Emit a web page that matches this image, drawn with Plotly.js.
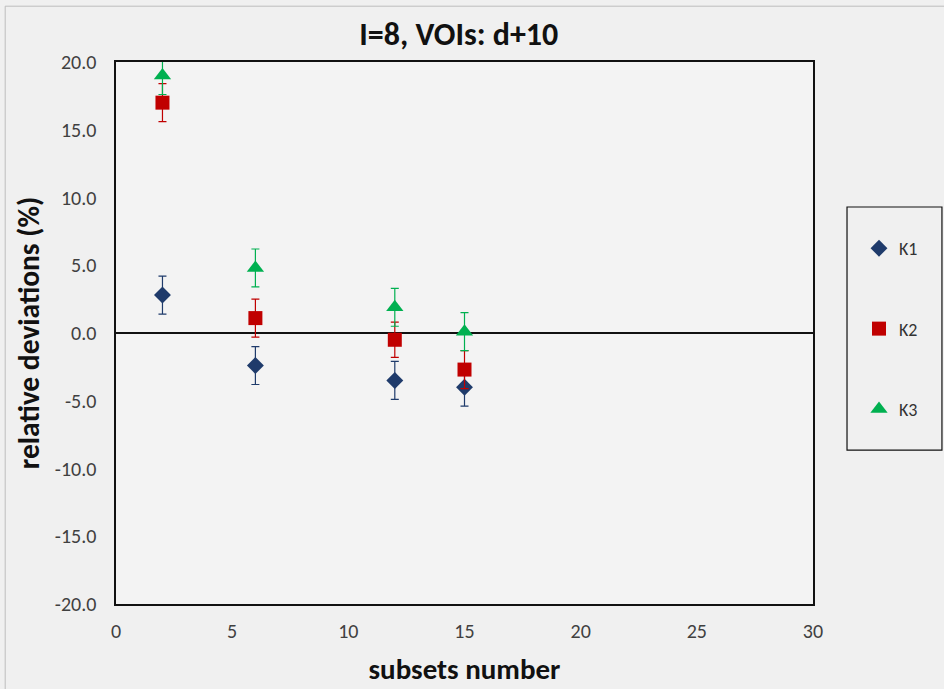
<!DOCTYPE html>
<html>
<head>
<meta charset="utf-8">
<script src="https://cdn.plot.ly/plotly-3.0.1.min.js"></script>
<style>html,body{margin:0;padding:0;background:#f0f0f0;}#chart{width:944px;height:689px;}</style>
</head>
<body>
<div id="chart"></div>
<script>
// Data
const subsets = [2, 6, 12, 15];
const k1 = [2.8, -2.4, -3.5, -4.0];
const k1Err = [1.4, 1.4, 1.4, 1.4];
const k2 = [17.0, 1.1, -0.5, -2.7];
const k2Err = [1.4, 1.4, 1.3, 1.4];
const k3 = [19.0, 4.8, 1.9, 0.1];
const k3Err = [1.4, 1.4, 1.4, 1.4];
const seriesNames = ['K1', 'K2', 'K3'];
const xTicks = [0, 5, 10, 15, 20, 25, 30];
const yTicks = [-20, -15, -10, -5, 0, 5, 10, 15, 20];
const yTickText = yTicks.map(v => v.toFixed(1));

const font = "Carlito, 'Liberation Sans Narrow', 'Open Sans', sans-serif";
const colors = ['#1f3b6b', '#c00000', '#00b050'];
const symbols = ['diamond', 'square', 'triangle-up'];
const sizes = [13, 14, 15];
const ys = [k1, k2, k3];
const errs = [k1Err, k2Err, k3Err];

const traces = seriesNames.map((n, i) => ({
  x: subsets, y: ys[i], name: n, type: 'scatter', mode: 'markers',
  legendgroup: 'g' + i,
  marker: {symbol: symbols[i], color: colors[i], size: sizes[i]},
  error_y: {type: 'data', array: errs[i], visible: true, color: colors[i], thickness: 1.2, width: 4}
}));

const layout = {
  width: 944, height: 689,
  margin: {l: 116, r: 131, t: 62, b: 85},
  paper_bgcolor: '#f0f0f0', plot_bgcolor: '#f3f3f3',
  font: {family: font, color: '#333'},
  title: {text: '<b>I=8, VOIs: d+10</b>', x: 0.486, xanchor: 'center', y: 0.951, yanchor: 'middle', font: {family: font, size: 32, color: '#111'}},
  xaxis: {range: [0, 30], tickvals: xTicks, ticks: '', showgrid: false, zeroline: false,
    showline: true, linecolor: '#111', linewidth: 1.6, mirror: true, automargin: false,
    tickfont: {size: 20, color: '#404040'}, ticklabelstandoff: 8,
    title: {text: '<b>subsets number</b>', font: {family: font, size: 29, color: '#111'}, standoff: 17}},
  yaxis: {range: [-20, 20], tickvals: yTicks, ticktext: yTickText, ticks: '', showgrid: false,
    zeroline: true, zerolinecolor: '#111', zerolinewidth: 1.5, automargin: false,
    showline: true, linecolor: '#111', linewidth: 1.6, mirror: true,
    tickfont: {size: 20, color: '#404040'}, ticklabelstandoff: 14,
    title: {text: '<b>relative deviations (%)</b>', font: {family: font, size: 29.5, color: '#111'}, standoff: 6}},
  legend: {x: 1.066, xanchor: 'left', y: 0.69, yanchor: 'top', bgcolor: 'rgba(0,0,0,0)', borderwidth: 0,
    traceorder: 'grouped', tracegroupgap: 54, font: {family: font, size: 18, color: '#333'}},
  shapes: [
    {type: 'rect', xref: 'paper', yref: 'paper', x0: 1.0488, x1: 1.185, y0: 0.284, y1: 0.7325,
      line: {color: '#111', width: 1.2}, fillcolor: 'rgba(0,0,0,0)'},
    {type: 'rect', xref: 'paper', yref: 'paper', x0: -0.159, x1: 1.19, y0: -0.16, y1: 1.103,
      line: {color: '#bdbdbd', width: 1}, fillcolor: 'rgba(0,0,0,0)', layer: 'below'}
  ],
  showlegend: true
};

Plotly.newPlot('chart', traces, layout, {displayModeBar: false, staticPlot: true});
</script>
</body>
</html>
